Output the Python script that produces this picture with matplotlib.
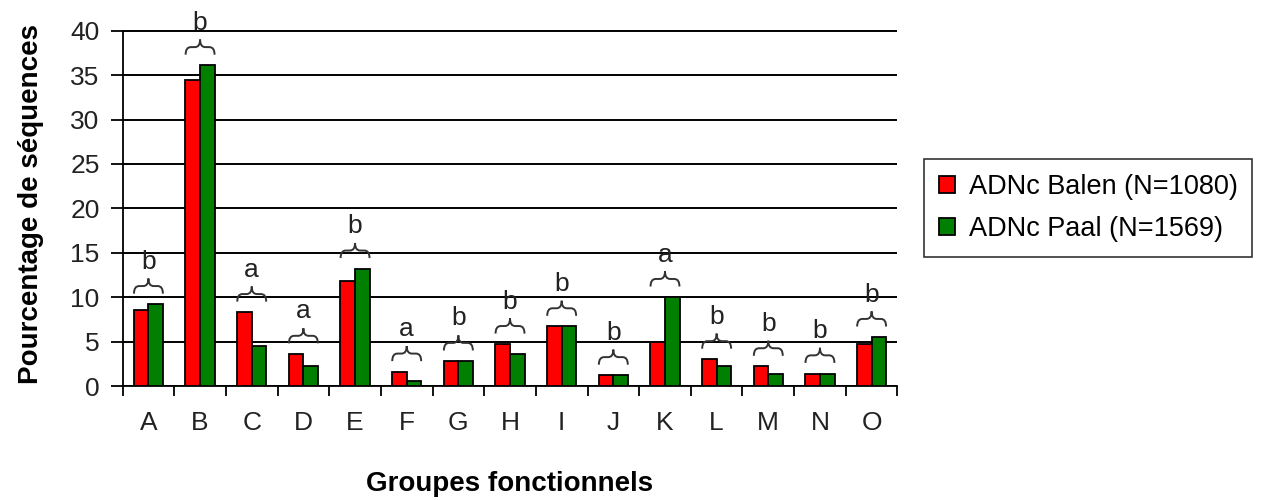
import numpy as np
import matplotlib
matplotlib.use("Agg")
import matplotlib.pyplot as plt
from matplotlib.path import Path
from matplotlib.patches import PathPatch

plt.rcParams['font.family'] = ['Liberation Sans', 'DejaVu Sans']

# data
groups = ['A', 'B', 'C', 'D', 'E', 'F', 'G', 'H', 'I', 'J', 'K', 'L', 'M', 'N', 'O']
balen = [8.5, 34.5, 8.3, 3.6, 11.8, 1.6, 2.8, 4.7, 6.7, 1.2, 5.0, 3.0, 2.2, 1.4, 4.7]
paal = [9.2, 36.1, 4.5, 2.2, 13.2, 0.6, 2.8, 3.6, 6.7, 1.2, 10.0, 2.2, 1.4, 1.4, 5.5]
letters = ['b', 'b', 'a', 'a', 'b', 'a', 'b', 'b', 'b', 'b', 'a', 'b', 'b', 'b', 'b']
yticks = [0, 5, 10, 15, 20, 25, 30, 35, 40]
label_balen = 'ADNc Balen (N=1080)'
label_paal = 'ADNc Paal (N=1569)'


def brace(ax, xc, half, y0, h, q=0.1):
    # curly brace opening downwards, peak in the middle
    ym = y0 + 0.5 * h
    verts = [(xc - half, y0), (xc - half, ym), (xc - half + q, ym),
             (xc - q, ym), (xc, ym), (xc, y0 + h),
             (xc, ym), (xc + q, ym),
             (xc + half - q, ym), (xc + half, ym), (xc + half, y0)]
    codes = [Path.MOVETO, Path.CURVE3, Path.CURVE3,
             Path.LINETO, Path.CURVE3, Path.CURVE3,
             Path.CURVE3, Path.CURVE3,
             Path.LINETO, Path.CURVE3, Path.CURVE3]
    ax.add_patch(PathPatch(Path(verts, codes), fill=False, lw=1.4,
                           edgecolor='#333333', clip_on=False, zorder=4))


fig = plt.figure(figsize=(12.64, 5.0), dpi=100)
ax = fig.add_axes([0.097, 0.228, 0.613, 0.7284])

x = np.arange(len(groups))
w = 0.285
ax.bar(x - w / 2, balen, w, color='#ff0000', edgecolor='black', lw=1.3,
       label=label_balen, zorder=3)
ax.bar(x + w / 2, paal, w, color='#007f00', edgecolor='black', lw=1.3,
       label=label_paal, zorder=3)

for i in range(len(groups)):
    top = max(balen[i], paal[i])
    brace(ax, x[i], 0.28, top + 1.2, 1.7)
    ax.text(x[i], top + 4.8, letters[i], ha='center', va='center',
            fontsize=19, color='#222222', zorder=5, clip_on=False)

ax.set_xlim(-0.5, len(groups) - 0.5)
ax.set_ylim(0, 41)
ax.set_yticks(yticks)
ax.spines['left'].set_bounds(0, 40)
ax.yaxis.grid(True, color='black', lw=1.4)
ax.set_axisbelow(True)

ax.set_xticks(x)
ax.set_xticklabels(groups)
ax.set_xticks(np.arange(-0.5, len(groups), 1), minor=True)
ax.tick_params(axis='x', which='major', length=0, pad=18, labelsize=19,
               labelcolor='#222222')
ax.tick_params(axis='x', which='minor', length=7, width=1.3, direction='out')
ax.tick_params(axis='y', length=8.5, width=1.3, direction='out', pad=8,
               labelsize=19, labelcolor='#222222')

for s in ['top', 'right']:
    ax.spines[s].set_visible(False)
for s in ['left', 'bottom']:
    ax.spines[s].set_linewidth(1.3)

ax.set_xlabel('Groupes fonctionnels', fontsize=20, fontweight='bold',
              labelpad=26)
ax.set_ylabel('Pourcentage de séquences', fontsize=20, fontweight='bold',
              labelpad=19)

leg = fig.legend(loc='center left', bbox_to_anchor=(0.731, 0.584),
                 fontsize=19.5, frameon=True, fancybox=False, edgecolor='black',
                 handlelength=0.6, handleheight=0.6, handletextpad=0.5,
                 borderpad=0.55, labelspacing=0.6, borderaxespad=0)
leg.get_frame().set_linewidth(1.2)

fig.savefig('out.png', dpi=100)
